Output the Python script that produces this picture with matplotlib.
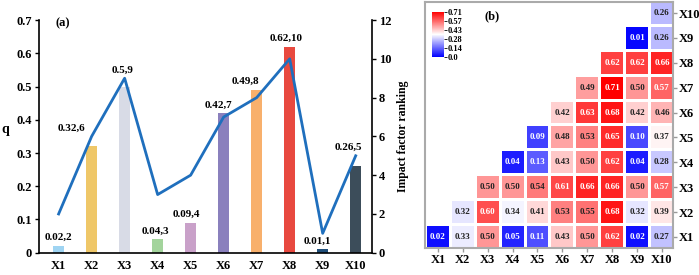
import numpy as np
import matplotlib.pyplot as plt

plt.rcParams['font.family'] = ['Liberation Serif', 'DejaVu Serif']
plt.rcParams['font.weight'] = 'bold'

# factor detector results
factors = ['X1', 'X2', 'X3', 'X4', 'X5', 'X6', 'X7', 'X8', 'X9', 'X10']
q_values = [0.02, 0.32, 0.50, 0.04, 0.09, 0.42, 0.49, 0.62, 0.01, 0.26]
ranking = [2, 6, 9, 3, 4, 7, 8, 10, 1, 5]
bar_colors = ['#9fd4f2', '#efc768', '#d8dbe6', '#a3d49c', '#c9a1c9',
              '#8a80bd', '#f8b06c', '#e8493f', '#1f4e79', '#3c4d5a']

# interaction detector (upper triangle, row i -> columns i..10)
interaction_rows = [
    [0.02, 0.33, 0.50, 0.05, 0.11, 0.43, 0.50, 0.62, 0.02, 0.27],
    [0.32, 0.60, 0.34, 0.41, 0.53, 0.55, 0.68, 0.32, 0.39],
    [0.50, 0.50, 0.54, 0.61, 0.66, 0.66, 0.50, 0.57],
    [0.04, 0.13, 0.43, 0.50, 0.62, 0.04, 0.28],
    [0.09, 0.48, 0.53, 0.65, 0.10, 0.37],
    [0.42, 0.63, 0.68, 0.42, 0.46],
    [0.49, 0.71, 0.50, 0.57],
    [0.62, 0.62, 0.66],
    [0.01, 0.26],
    [0.26],
]

# label x nudges (layout only)
label_dx = [0, -0.62, -0.05, -0.08, -0.12, -0.15, -0.33, -0.1, -0.15, -0.22]

fig = plt.figure(figsize=(6.99, 2.75), dpi=100)

# ---- (a) bar + line ----
ax = fig.add_axes([0.056, 0.081, 0.476, 0.846])
x = np.arange(len(factors))
ax.bar(x, q_values, width=0.33, color=bar_colors, zorder=2)
ax.set_xlim(-0.59, 9.49)
ax.set_ylim(0, 0.7)
ax.set_xticks(x)
ax.set_xticklabels(factors, fontsize=9, fontweight='bold')
ax.set_yticks(np.arange(0, 0.71, 0.1))
ax.set_yticklabels(['0'] + [f'{v:.1f}' for v in np.arange(0.1, 0.71, 0.1)], fontsize=9)
ax.tick_params(axis='x', length=0, pad=5)
ax.tick_params(axis='y', length=3, width=1, pad=2)
ax.spines['top'].set_visible(False)
ax.spines['right'].set_visible(False)
for s in ['left', 'bottom']:
    ax.spines[s].set_linewidth(1.2)
ax.set_ylabel('q', fontsize=10, fontweight='bold', rotation=0, labelpad=8)
ax.text(0.05, 0.985, '(a)', transform=ax.transAxes, fontsize=9, fontweight='bold', va='center')

ax2 = ax.twinx()
ax2.plot(x, ranking, color='#1f6fbd', lw=2, zorder=3)
ax2.set_ylim(0, 12)
ax2.set_yticks(range(0, 13, 2))
ax2.tick_params(axis='y', labelsize=9, length=3, width=1, pad=2)
ax2.spines['top'].set_visible(False)
ax2.spines['left'].set_visible(False)
ax2.spines['bottom'].set_visible(False)
ax2.spines['right'].set_linewidth(1.2)
ax2.set_ylabel('Impact factor ranking', fontsize=8.5, fontweight='bold', labelpad=4)

for i, (q, r) in enumerate(zip(q_values, ranking)):
    line_q = r * 0.7 / 12
    top = max(q, line_q) if abs(q - line_q) < 0.04 else q
    ax.text(i + label_dx[i], top + 0.025, f'{q:g},{r}', ha='center', va='center',
            fontsize=8, fontweight='bold', zorder=5)

# ---- (b) interaction heatmap ----
bx = fig.add_axes([0.608, 0.098, 0.355, 0.895])
cmap = plt.get_cmap('bwr')
norm = plt.Normalize(0, 0.71)
n = len(factors)
for i, row in enumerate(interaction_rows):
    for k, v in enumerate(row):
        j = i + k
        bx.add_patch(plt.Rectangle((j + 1 - 0.44, i + 1 - 0.44), 0.88, 0.88,
                                   facecolor=cmap(norm(v)), edgecolor='none'))
        tc = 'white' if abs(v - 0.355) > 0.205 else '#222222'
        bx.text(j + 1, i + 1, f'{v:.2f}', ha='center', va='center',
                fontsize=6.5, fontweight='bold', color=tc)
bx.set_xlim(0.48, 10.45)
bx.set_ylim(0.55, 10.45)
bx.set_xticks(range(1, n + 1))
bx.set_xticklabels(factors, fontsize=9, fontweight='bold')
bx.yaxis.tick_right()
bx.set_yticks(range(1, n + 1))
bx.set_yticklabels(factors, fontsize=9, fontweight='bold')
bx.tick_params(axis='both', length=3, width=1, color='#999999', pad=1)
for s in bx.spines.values():
    s.set_color('#aaaaaa')
    s.set_linewidth(1.5)
bx.text(0.24, 0.94, '(b)', transform=bx.transAxes, fontsize=9, fontweight='bold', va='center')

cax = fig.add_axes([0.618, 0.793, 0.017, 0.164])
sm = plt.cm.ScalarMappable(cmap=cmap, norm=norm)
cb = fig.colorbar(sm, cax=cax)
cb.set_ticks([0.0, 0.14, 0.28, 0.43, 0.57, 0.71])
cb.set_ticklabels(['0.0', '0.14', '0.28', '0.43', '0.57', '0.71'])
cb.ax.tick_params(labelsize=6, length=2, width=0.6, pad=1)
cb.outline.set_visible(False)

fig.savefig('out.png', dpi=100)
